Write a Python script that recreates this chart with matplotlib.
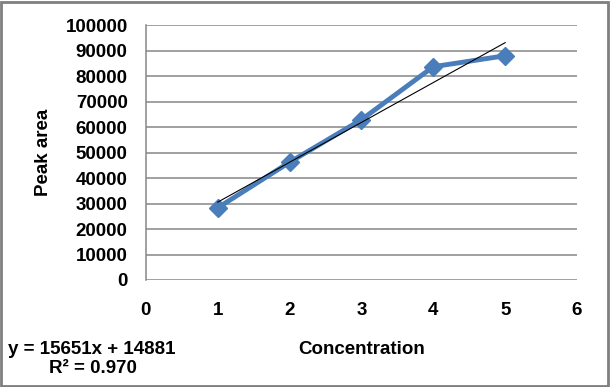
import matplotlib

matplotlib.use("Agg")

import matplotlib.pyplot as plt
import numpy as np
from matplotlib.patches import Rectangle

concentration = [1, 2, 3, 4, 5]
peak_area = [28300, 46200, 62900, 83700, 88000]
slope = 15651
intercept = 14881
r_squared = 0.970

plt.rcParams["font.family"] = ["Liberation Sans", "DejaVu Sans"]
plt.rcParams["font.weight"] = "bold"

fig = plt.figure(figsize=(6.1, 3.87), dpi=100)
ax = fig.add_axes([0.239, 0.2765, 0.707, 0.6585])

grid_color = "#868686"
ax.set_xlim(0, 6)
ax.set_ylim(0, 100000)
ax.set_xticks(np.arange(0, 7, 1))
ax.set_yticks(np.arange(0, 100001, 10000))
ax.yaxis.grid(True, color=grid_color, linewidth=1.1)
ax.set_axisbelow(True)
for side in ["top", "right", "bottom"]:
    ax.spines[side].set_visible(False)
ax.spines["left"].set_color(grid_color)
ax.spines["left"].set_linewidth(1.1)
ax.tick_params(axis="both", length=0, labelsize=13.5)
ax.tick_params(axis="x", pad=16)
ax.tick_params(axis="y", pad=13)
for lbl in ax.get_xticklabels() + ax.get_yticklabels():
    lbl.set_fontweight("bold")

ax.plot(concentration, peak_area, color="#4A7EBB", linewidth=3.5,
        marker="D", markersize=9, markerfacecolor="#4A7EBB", markeredgecolor="#4A7EBB",
        zorder=3)

xs = np.array([concentration[0], concentration[-1]])
ax.plot(xs, slope * xs + intercept, color="black", linewidth=0.8, zorder=4)

ax.set_ylabel("Peak area", fontsize=13.5, fontweight="bold", labelpad=10)
ax.set_xlabel("Concentration", fontsize=13.5, fontweight="bold", labelpad=16)

fig.text(0.013, 0.097, f"y = {slope}x + {intercept}", fontsize=13.5, fontweight="bold",
         ha="left", va="center")
fig.text(0.153, 0.048, f"R² = {r_squared:.3f}", fontsize=13.5, fontweight="bold",
         ha="center", va="center")

fig.patches.append(Rectangle((0.002, 0.003), 0.995, 0.993, transform=fig.transFigure,
                             fill=False, edgecolor="#7f7f7f", linewidth=2))

fig.savefig("out.png", dpi=100)
